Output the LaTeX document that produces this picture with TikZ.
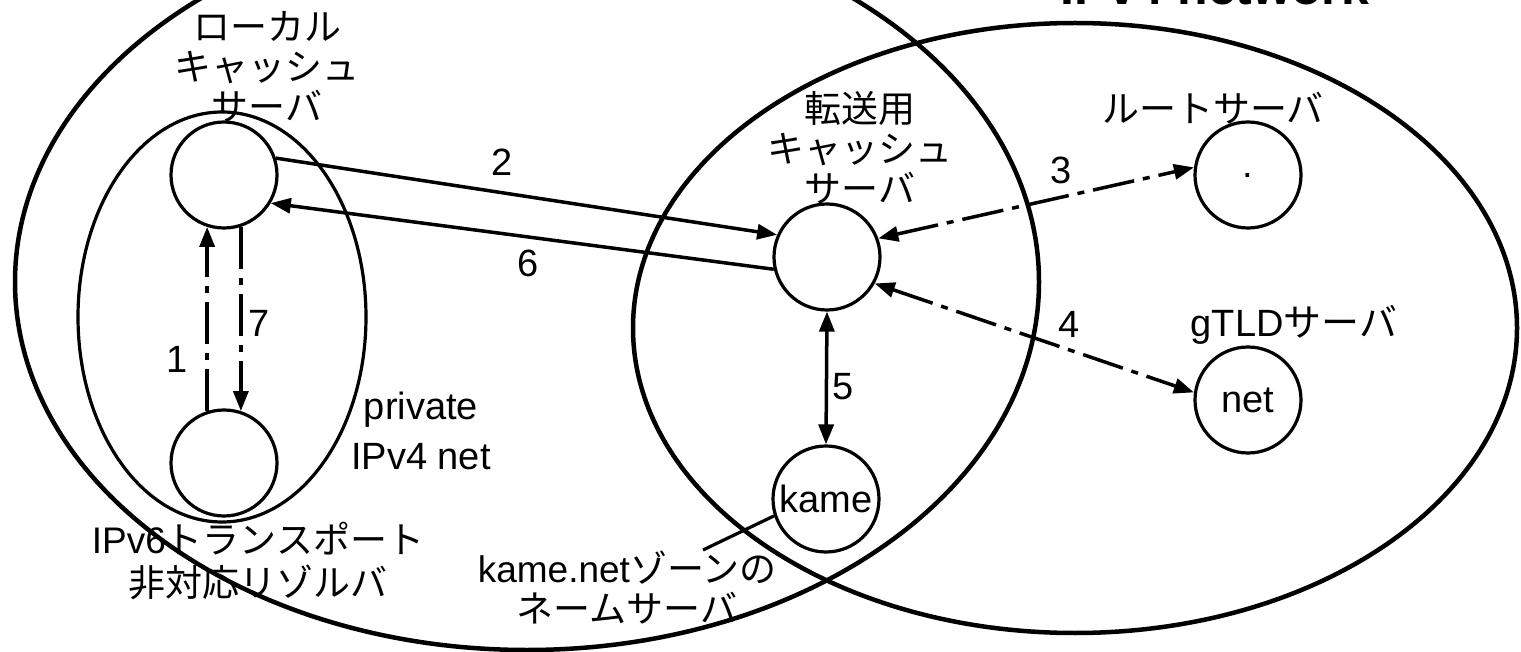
\documentclass[tikz,border=0pt]{standalone}
\usepackage{fontspec}
\setmainfont{Liberation Sans}
\newfontfamily\jp{Noto Sans CJK JP}
\usetikzlibrary{arrows.meta}
\begin{document}
\begin{tikzpicture}[x=1pt,y=-1pt,
  srv/.style={circle,draw,line width=3.2pt,minimum size=106pt,inner sep=0pt,font=\fontsize{38}{40}\selectfont},
  lbl/.style={font=\fontsize{38}{40}\selectfont,inner sep=0pt,align=center},
  jlbl/.style={font=\jp\fontsize{37}{40}\selectfont,inner sep=0pt,align=center},
  tip/.style={Triangle[length=20pt,width=15pt]},
  arr/.style={line width=3.5pt,-{Triangle[length=20pt,width=15pt]}},
  barr/.style={line width=3.5pt,{Triangle[length=20pt,width=15pt]}-{Triangle[length=20pt,width=15pt]}},
  dd/.style={dash pattern=on 42pt off 9pt on 7pt off 9pt},
  zone/.style={line width=4.5pt},
]
\useasboundingbox (0,0) rectangle (1521,652);
\fill[white] (0,0) rectangle (1521,652);
% networks
\draw[zone] (527,282) ellipse [x radius=512pt, y radius=368pt];
\draw[zone] (1075,328) ellipse [x radius=442pt, y radius=305pt];
\draw[line width=3.2pt] (222,317) ellipse [x radius=144pt, y radius=205pt];
\node[font=\bfseries\fontsize{50}{60}\selectfont,anchor=base,inner sep=0pt] (title) at (1215,5) {IPv4 network};
% servers
\node[srv] (lc) at (224,175) {};
\node[srv] (rs) at (224,463) {};
\node[srv] (fc) at (827,257) {};
\node[srv] (root) at (1248,175) {.};
\node[srv] (net) at (1248,400) {net};
\node[srv] (kame) at (826,499) {kame};
% labels
\node[jlbl] (tlc) at (267,67) {ローカル\\キャッシュ\\サーバ};
\node[jlbl] (tfc) at (860,148) {転送用\\キャッシュ\\サーバ};
\node[jlbl] (troot) at (1213,108) {ルートサーバ};
\node[lbl] (tgtld) at (1294,325) {gTLD{\jp サーバ}};
\node[font=\fontsize{38}{50}\selectfont,inner sep=0pt,align=center] (tpriv) at (421,431) {private\\IPv4 net};
\node[font=\fontsize{37}{43}\selectfont,inner sep=0pt,align=center] (trs) at (258,561) {IPv6{\jp トランスポート}\\{\jp 非対応リゾルバ}};
\node[font=\fontsize{37}{40}\selectfont,inner sep=0pt,align=center] (tkame) at (627,588) {kame.net{\jp ゾーンの}\\{\jp ネームサーバ}};
% connectors
\draw[arr] (lc.18) -- (fc.156);
\draw[arr] (fc.193) -- (lc.-31);
\draw[arr,dd] (rs.108) -- (lc.-108);
\draw[arr,dd] (lc.-72) -- (rs.72);
\draw[barr,dd] (fc.20) -- (root.172);
\draw[barr,dd] (fc.-29) -- (net.172);
\draw[barr] (fc.south) -- (kame.north);
\coordinate (kl) at (703,550);
\draw[line width=3.2pt] (kame.198) -- (kl);
% numbers
\node[lbl] (n1) at (177,359) {1};
\node[lbl] (n2) at (502,162) {2};
\node[lbl] (n3) at (1061,170) {3};
\node[lbl] (n4) at (1069,324) {4};
\node[lbl] (n5) at (843,387) {5};
\node[lbl] (n6) at (528,263) {6};
\node[lbl] (n7) at (259,323) {7};
\end{tikzpicture}
\end{document}
